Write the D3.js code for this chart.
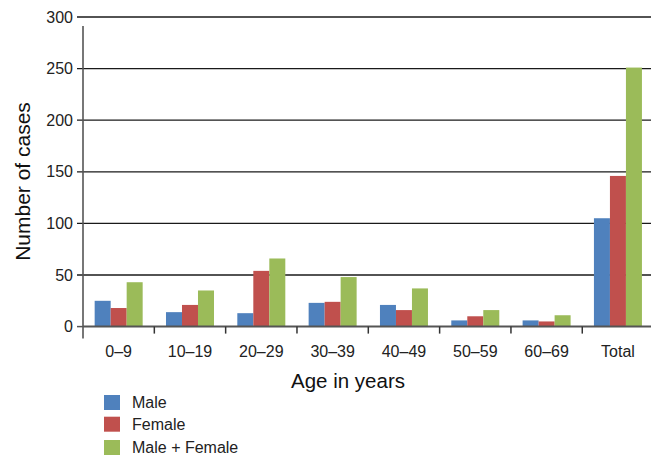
<!DOCTYPE html>
<html>
<head>
<meta charset="utf-8">
<script src="https://cdn.jsdelivr.net/npm/d3@7"></script>
<style>
  html, body { margin: 0; padding: 0; background: #fff; }
  svg { display: block; font-family: "Liberation Sans", Arial, sans-serif; }
</style>
</head>
<body>
<svg id="chart" width="651" height="459"></svg>
<script>
// Age groups along the x axis
const categories = ["0–9", "10–19", "20–29", "30–39", "40–49", "50–59", "60–69", "Total"];
// Series names and values (number of cases)
const seriesNames = ["Male", "Female", "Male + Female"];
const male       = [25, 14, 13, 23, 21, 6, 6, 105];
const female     = [18, 21, 54, 24, 16, 10, 5, 146];
const maleFemale = [43, 35, 66, 48, 37, 16, 11, 251];
const yTicks = [0, 50, 100, 150, 200, 250, 300];
const colors = ["#4F81BD", "#C0504D", "#9BBB59"];

const seriesValues = [male, female, maleFemale];
const rows = categories.map((c, i) => ({
  category: c,
  values: seriesNames.map((s, k) => ({ series: s, value: seriesValues[k][i] }))
}));

const svg = d3.select("#chart");
const plotLeft = 83, plotRight = 653.6;

const x = d3.scaleBand().domain(categories).range([plotLeft, plotRight]).paddingInner(0).paddingOuter(0);
const xInner = d3.scaleBand().domain(seriesNames)
  .range([(x.bandwidth() - 48) / 2, (x.bandwidth() + 48) / 2]);
const y = d3.scaleLinear().domain([0, 300]).range([326.6, 17]);

// Horizontal gridlines with their tick stubs
svg.append("g").selectAll("line").data(yTicks.filter(d => d > 0)).join("line")
  .attr("x1", plotLeft - 6).attr("x2", 651)
  .attr("y1", d => y(d)).attr("y2", d => y(d))
  .attr("stroke", "#1a1a1a").attr("stroke-width", 1.3);

// Y tick labels
svg.append("g").selectAll("text").data(yTicks).join("text")
  .attr("x", plotLeft - 10).attr("y", d => y(d))
  .attr("dy", "0.35em").attr("text-anchor", "end")
  .attr("font-size", 16).attr("fill", "#222")
  .text(d => d);

// Bars
const groups = svg.append("g").selectAll("g").data(rows).join("g")
  .attr("transform", d => `translate(${x(d.category)},0)`);
groups.selectAll("rect").data(d => d.values).join("rect")
  .attr("x", d => xInner(d.series))
  .attr("width", xInner.bandwidth())
  .attr("y", d => y(d.value))
  .attr("height", d => y(0) - y(d.value))
  .attr("fill", (d, i) => colors[i]);

// Vertical axis line
svg.append("line")
  .attr("x1", plotLeft).attr("x2", plotLeft)
  .attr("y1", y(300) + 9).attr("y2", y(0) + 12)
  .attr("stroke", "#555").attr("stroke-width", 1.6);
// Zero tick stub
svg.append("line")
  .attr("x1", plotLeft - 6).attr("x2", plotLeft)
  .attr("y1", y(0)).attr("y2", y(0))
  .attr("stroke", "#555").attr("stroke-width", 1.5);

// Horizontal axis line
svg.append("line")
  .attr("x1", plotLeft).attr("x2", 651)
  .attr("y1", y(0)).attr("y2", y(0))
  .attr("stroke", "#555").attr("stroke-width", 2);

// Category boundary ticks
svg.append("g").selectAll("line").data(categories.slice(1)).join("line")
  .attr("x1", d => x(d)).attr("x2", d => x(d))
  .attr("y1", y(0)).attr("y2", y(0) + 7)
  .attr("stroke", "#333").attr("stroke-width", 1.5);

// Category labels
svg.append("g").selectAll("text").data(categories).join("text")
  .attr("x", d => x(d) + x.bandwidth() / 2).attr("y", 356.5)
  .attr("text-anchor", "middle").attr("font-size", 16).attr("fill", "#222")
  .text(d => d);

// Axis titles
svg.append("text")
  .attr("transform", "translate(30,181.5) rotate(-90)")
  .attr("text-anchor", "middle").attr("font-size", 21).attr("fill", "#111")
  .text("Number of cases");
svg.append("text")
  .attr("x", 348).attr("y", 388)
  .attr("text-anchor", "middle").attr("font-size", 20.5).attr("fill", "#111")
  .text("Age in years");

// Legend
const legendY = [395, 416.7, 440];
const legend = svg.append("g").selectAll("g").data(seriesNames).join("g")
  .attr("transform", (d, i) => `translate(104,${legendY[i]})`);
legend.append("rect").attr("width", 16).attr("height", 15).attr("fill", (d, i) => colors[i]);
legend.append("text").attr("x", 28).attr("y", 13)
  .attr("font-size", 16).attr("fill", "#222").text(d => d);
</script>
</body>
</html>
